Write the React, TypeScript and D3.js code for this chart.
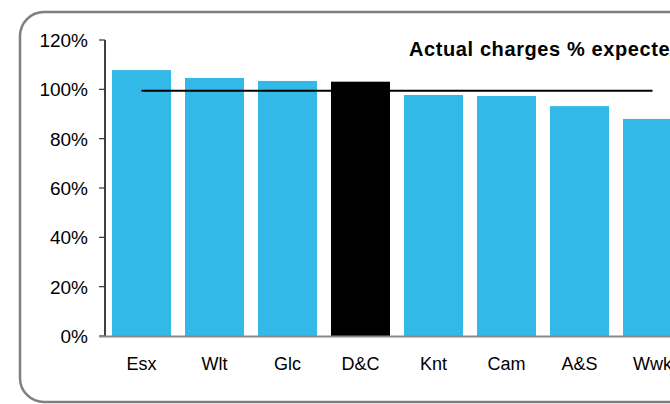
import React from "react";
import * as d3 from "d3";

const categories = ["Esx", "Wlt", "Glc", "D&C", "Knt", "Cam", "A&S", "Wwk"];
const actualValues = [107.8, 104.6, 103.4, 103.1, 97.7, 97.3, 93.2, 88.0];
const expectedValues = [99.4, 99.4, 99.4, 99.4, 99.4, 99.4, 99.4, 99.4];
const highlight = "D&C";
const yTicks = [0, 20, 40, 60, 80, 100, 120];
const title = "Actual charges % expected";

export default function App() {
  const W = 670;
  const H = 404;
  const x0 = 105;
  const step = 73;
  const x = d3
    .scaleBand<string>()
    .domain(categories)
    .range([x0, x0 + step * categories.length])
    .paddingInner(14 / 73)
    .paddingOuter(7 / 73);
  const y = d3.scaleLinear().domain([0, 120]).range([336, 40]);

  const line = d3
    .line<number>()
    .x((_, i) => (x(categories[i]) as number) + x.bandwidth() / 2)
    .y((d) => y(d));

  const font = "'Liberation Sans', Arial, sans-serif";

  return (
    <svg
      width={W}
      height={H}
      style={{ position: "absolute", left: 0, top: 0, background: "#fff" }}
    >
      <rect
        x={20}
        y={12}
        width={700}
        height={390}
        rx={24}
        ry={24}
        fill="#fff"
        stroke="#7f7f7f"
        strokeWidth={2.5}
      />
      {categories.map((c, i) => (
        <rect
          key={c}
          x={x(c)}
          y={y(actualValues[i])}
          width={x.bandwidth()}
          height={y(0) - y(actualValues[i])}
          fill={c === highlight ? "#000" : "#33B9E8"}
        />
      ))}
      <path
        d={line(expectedValues) || ""}
        fill="none"
        stroke="#000"
        strokeWidth={2}
      />
      {/* y axis */}
      <line x1={x0} x2={x0} y1={y(120)} y2={y(0)} stroke="#000" strokeWidth={1.5} />
      {yTicks.map((t) => (
        <g key={t}>
          <line x1={99} x2={x0} y1={y(t)} y2={y(t)} stroke="#333" strokeWidth={1.2} />
          <text
            x={88}
            y={y(t)}
            dy="0.36em"
            textAnchor="end"
            fontFamily={font}
            fontSize={19}
            fill="#000"
          >
            {t}%
          </text>
        </g>
      ))}
      {/* x axis */}
      <line x1={99} x2={W} y1={y(0) + 0.5} y2={y(0) + 0.5} stroke="#8a8a8a" strokeWidth={2} />
      {categories.map((c) => (
        <text
          key={c}
          x={(x(c) as number) + x.bandwidth() / 2}
          y={370}
          textAnchor="middle"
          fontFamily={font}
          fontSize={18}
          fill="#000"
        >
          {c}
        </text>
      ))}
      <text
        x={409}
        y={56}
        fontFamily={font}
        fontSize={20}
        letterSpacing={0.6}
        fontWeight="bold"
        fill="#000"
      >
        {title}
      </text>
    </svg>
  );
}
